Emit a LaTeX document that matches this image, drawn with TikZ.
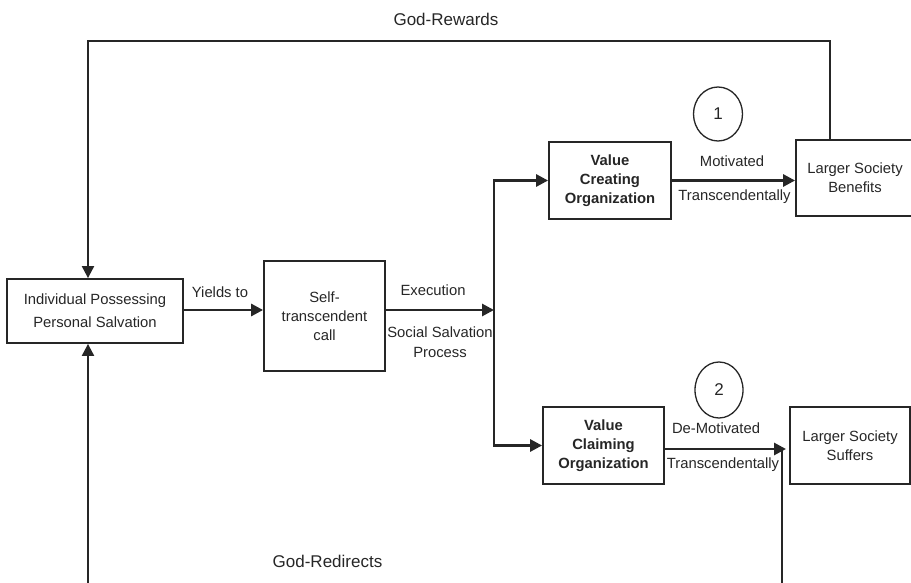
\documentclass[tikz,border=0pt]{standalone}
\usepackage{fontspec}
\setmainfont{Liberation Sans}
\usepackage{xcolor}
\usetikzlibrary{positioning,calc}
\usetikzlibrary{arrows.meta,shapes.geometric}
\definecolor{ink}{HTML}{262626}
\tikzset{
	box/.style={draw=ink,line width=1.8pt,rectangle,align=center,text=ink,font=\fontsize{14.8}{19}\selectfont,inner sep=0pt},
	orgbox/.style={box,font=\fontsize{14.8}{19}\selectfont\bfseries},
	tag/.style={text=ink,align=center,font=\fontsize{14.8}{20}\selectfont,inner sep=0pt},
	godtag/.style={text=ink,font=\fontsize{17}{20}\selectfont,inner sep=0pt},
	number/.style={draw=ink,line width=1.3pt,ellipse,inner sep=0pt,text=ink,font=\fontsize{17}{20}\selectfont},
	flow/.style={
		draw=ink, line width=2.8pt, -{Triangle[length=12pt,width=12pt]},
	},
	feedback/.style={
		draw=ink, line width=2pt, -{Triangle[length=12pt,width=12pt]},
	},
}

\begin{document}
\begin{tikzpicture}[x=1pt,y=-1pt]
				\useasboundingbox (0,0) rectangle (911,583);
				
				% Person and call
				\node[box,minimum width=176pt,minimum height=64pt,font=\fontsize{14.8}{23}\selectfont] (indiv) at (95,311) {Individual Possessing\\Personal Salvation};
				\node[box,minimum width=121pt,minimum height=110pt] (self) at (324.5,316) {Self-\\transcendent\\call};
				
				% Organizations
				\node[orgbox,minimum width=122pt,minimum height=77pt] (create) at (610,180.5) {Value\\Creating\\Organization};
				\node[orgbox,minimum width=121pt,minimum height=77pt] (claim) at (603.5,445.5) {Value\\Claiming\\Organization};
				
				% Society
				\node[box,minimum width=118pt,minimum height=76pt] (benefits) at (855,178) {Larger Society\\Benefits};
				\node[box,minimum width=120pt,minimum height=77pt] (suffers) at (850,445.5) {Larger Society\\Suffers};
				
				% Numbered outcomes
				\node[number,minimum width=49pt,minimum height=54pt] (one) at (718,114) {1};
				\node[number,minimum width=48pt,minimum height=56pt] (two) at (719,390) {2};
				
				% Turning points
				\coordinate (fork) at (494,310);
				\coordinate (down) at (786,449);
				\coordinate (rewtop) at (88,41);
				\coordinate (redirleft) at (88,583);
				\coordinate (redirright) at (782,583);
				
				% Draw connections
				\draw[flow] (indiv.east |- fork) -- (self.west |- fork);
				\draw[flow] (self.east |- fork) -- (fork);
				\draw[flow] (fork) |- (create.west);
				\draw[flow] (fork) |- (claim.west);
				\draw[flow] (create.east) -- (create.east -| benefits.west);
				\draw[flow] (claim.east |- down) -- (down);
				
				% God loops
				\draw[feedback] ([xshift=-25pt]benefits.north) |- (rewtop) -- (indiv.north -| rewtop);
				\draw[feedback] (redirleft) -- (indiv.south -| redirleft);
				\draw[draw=ink,line width=2pt] (redirright) -- (redirright |- down);
				
				% Labels
				\node[tag] (yields) at (220,292) {Yields to};
				\node[tag] (exec) at (433,290) {Execution};
				\node[tag] (process) at (440,342) {Social Salvation\\Process};
				\node[tag] (motiv) at (732,161) {Motivated};
				\node[tag] (trans1) at (734.5,197) {Transcendentally};
				\node[tag] (demotiv) at (716,428) {De-Motivated};
				\node[tag] (trans2) at (723,465) {Transcendentally};
				\node[godtag] (rewards) at (446,19) {God-Rewards};
				\node[godtag] (redirects) at (327.5,561) {God-Redirects};
			\end{tikzpicture}
\end{document}
